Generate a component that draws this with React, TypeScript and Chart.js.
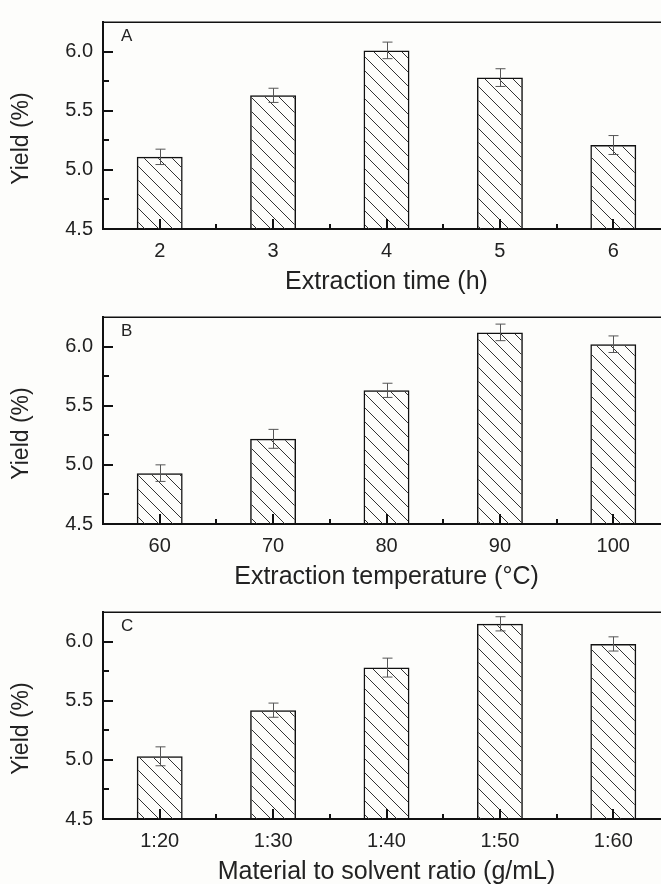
import React, { useEffect, useRef } from 'react';
import { Chart, registerables } from 'chart.js';

Chart.register(...registerables);

// ---------- data ----------
const timeLabels = ['2', '3', '4', '5', '6'];
const timeYield = [5.11, 5.63, 6.01, 5.78, 5.21];
const timeErr = [0.065, 0.06, 0.07, 0.075, 0.08];

const tempLabels = ['60', '70', '80', '90', '100'];
const tempYield = [4.93, 5.22, 5.63, 6.12, 6.02];
const tempErr = [0.07, 0.08, 0.06, 0.07, 0.07];

const ratioLabels = ['1:20', '1:30', '1:40', '1:50', '1:60'];
const ratioYield = [5.03, 5.42, 5.78, 6.15, 5.98];
const ratioErr = [0.08, 0.06, 0.08, 0.06, 0.06];

const yTickValues = [4.5, 5.0, 5.5, 6.0];
const yMin = 4.5;
const yMax = 6.25;

const panelLetters = ['A', 'B', 'C'];
const xTitles = [
  'Extraction time (h)',
  'Extraction temperature (°C)',
  'Material to solvent ratio (g/mL)',
];
const yTitle = 'Yield (%)';

// ---------- styling ----------
const FONT = '"Liberation Sans", Arial, sans-serif';
const TEXT = '#222';
const AXIS = '#111';
const BG = '#fdfdfb';

function makeHatch(ctx: CanvasRenderingContext2D) {
  const s = 14;
  const c = document.createElement('canvas');
  c.width = s;
  c.height = s;
  const g = c.getContext('2d')!;
  g.strokeStyle = '#333';
  g.lineWidth = 1;
  g.beginPath();
  g.moveTo(-2, -2);
  g.lineTo(s + 2, s + 2);
  g.moveTo(-2, s - 2);
  g.lineTo(2, s + 2);
  g.moveTo(s - 2, -2);
  g.lineTo(s + 2, 2);
  g.stroke();
  return ctx.createPattern(c, 'repeat');
}

const decorPlugin = {
  id: 'decor',
  afterDatasetsDraw(chart: any, _args: any, opts: any) {
    const ctx: CanvasRenderingContext2D = chart.ctx;
    const area = chart.chartArea;
    const xs = chart.scales.x;
    const ys = chart.scales.y;
    const meta = chart.getDatasetMeta(0);
    const values: number[] = chart.data.datasets[0].data;
    const errors: number[] = opts.errors || [];

    ctx.save();
    // error bars
    ctx.strokeStyle = '#555';
    ctx.lineWidth = 1;
    meta.data.forEach((bar: any, i: number) => {
      const v = values[i];
      const e = errors[i] || 0;
      const x = Math.round(bar.x) + 0.5;
      const yt = ys.getPixelForValue(v + e);
      const yb = ys.getPixelForValue(v - e);
      ctx.beginPath();
      ctx.moveTo(x, yt);
      ctx.lineTo(x, yb);
      ctx.moveTo(x - 5, yt);
      ctx.lineTo(x + 5, yt);
      ctx.moveTo(x - 5, yb);
      ctx.lineTo(x + 5, yb);
      ctx.stroke();
    });

    // inward ticks
    ctx.strokeStyle = AXIS;
    ctx.lineWidth = 2;
    ctx.beginPath();
    yTickValues.forEach((v, i) => {
      const y = Math.round(ys.getPixelForValue(v));
      ctx.moveTo(area.left, y);
      ctx.lineTo(area.left + 10, y);
      if (i < yTickValues.length - 1) {
        const ym = Math.round(ys.getPixelForValue((v + yTickValues[i + 1]) / 2));
        ctx.moveTo(area.left, ym);
        ctx.lineTo(area.left + 6, ym);
      }
    });
    const n = chart.data.labels.length;
    for (let i = 0; i < n; i++) {
      const x = Math.round(xs.getPixelForValue(i));
      ctx.moveTo(x, area.bottom);
      ctx.lineTo(x, area.bottom - 10);
      const xb = Math.round(xs.getPixelForValue(i + 0.5));
      ctx.moveTo(xb, area.bottom);
      ctx.lineTo(xb, area.bottom - 5);
    }
    ctx.stroke();

    // top frame
    ctx.lineWidth = 1.5;
    ctx.beginPath();
    ctx.moveTo(area.left, area.top + 0.25);
    ctx.lineTo(area.right, area.top + 0.25);
    ctx.stroke();
    ctx.restore();
  },
  afterDraw(chart: any, _args: any, opts: any) {
    const ctx: CanvasRenderingContext2D = chart.ctx;
    const area = chart.chartArea;
    ctx.save();
    ctx.fillStyle = TEXT;
    // panel letter
    ctx.font = `17px ${FONT}`;
    ctx.textAlign = 'left';
    ctx.textBaseline = 'top';
    ctx.fillText(opts.letter || '', area.left + 18, area.top + 6);
    // y title
    ctx.font = `23px ${FONT}`;
    ctx.textAlign = 'center';
    ctx.textBaseline = 'middle';
    ctx.translate(22, (area.top + area.bottom) / 2 + 13);
    ctx.rotate(-Math.PI / 2);
    ctx.fillText(yTitle, 0, 0);
    ctx.restore();
  },
};

type PanelProps = {
  letter: string;
  labels: string[];
  values: number[];
  errors: number[];
  xTitle: string;
};

function Panel({ letter, labels, values, errors, xTitle }: PanelProps) {
  const ref = useRef<HTMLCanvasElement>(null);
  useEffect(() => {
    const canvas = ref.current!;
    const ctx = canvas.getContext('2d')!;
    const pattern = makeHatch(ctx);
    const chart = new Chart(canvas, {
      type: 'bar',
      data: {
        labels,
        datasets: [
          {
            data: values,
            backgroundColor: pattern as any,
            borderColor: AXIS,
            borderWidth: 1.5,
            borderSkipped: 'bottom',
            barPercentage: 0.405,
            categoryPercentage: 1,
          },
        ],
      },
      options: {
        responsive: false,
        animation: false,
        devicePixelRatio: 1,
        layout: { padding: { top: 16, right: 10, left: 0, bottom: 0 } },
        plugins: {
          legend: { display: false },
          tooltip: { enabled: false },
          // @ts-ignore
          decor: { errors, letter },
        },
        scales: {
          x: {
            grid: { display: false, drawTicks: false },
            border: { display: true, color: AXIS, width: 2 },
            ticks: {
              color: TEXT,
              font: { family: FONT, size: 20 },
              padding: 10,
              maxRotation: 0,
              autoSkip: false,
            },
            title: {
              display: true,
              text: xTitle,
              color: TEXT,
              font: { family: FONT, size: 25, lineHeight: 1.05 },
              padding: { top: 0, bottom: 0 },
            },
            afterFit: (s: any) => {
              s.height = 66;
            },
          },
          y: {
            min: yMin,
            max: yMax,
            grid: { display: false, drawTicks: false },
            border: { display: true, color: AXIS, width: 2 },
            ticks: {
              color: TEXT,
              font: { family: FONT, size: 20 },
              padding: 10,
              callback: (v: any) => Number(v).toFixed(1),
            },
            afterBuildTicks: (s: any) => {
              s.ticks = yTickValues.map((v) => ({ value: v }));
            },
            afterFit: (s: any) => {
              s.width = 103;
            },
          },
        },
      },
      plugins: [decorPlugin],
    });
    return () => chart.destroy();
  }, []);
  return <canvas ref={ref} width={680} height={295} style={{ display: 'block' }} />;
}

export default function App() {
  return (
    <div
      style={{
        position: 'fixed',
        left: 0,
        top: 0,
        width: 661,
        height: 884,
        overflow: 'hidden',
        background: BG,
      }}
    >
      <Panel letter={panelLetters[0]} labels={timeLabels} values={timeYield} errors={timeErr} xTitle={xTitles[0]} />
      <Panel letter={panelLetters[1]} labels={tempLabels} values={tempYield} errors={tempErr} xTitle={xTitles[1]} />
      <Panel letter={panelLetters[2]} labels={ratioLabels} values={ratioYield} errors={ratioErr} xTitle={xTitles[2]} />
    </div>
  );
}
